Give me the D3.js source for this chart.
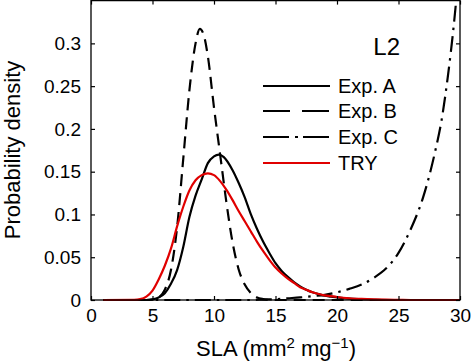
<!DOCTYPE html>
<html>
<head>
<meta charset="utf-8">
<script src="https://cdn.jsdelivr.net/npm/d3@7"></script>
<style>
  html, body { margin: 0; padding: 0; background: #fff; }
  svg { display: block; }
  text { font-family: "Liberation Sans", Arial, Helvetica, sans-serif; fill: #000; }
</style>
</head>
<body>
<svg id="chart" width="475" height="364"></svg>
<script>
// ---- Data ----
const xTicks = [0, 5, 10, 15, 20, 25, 30];
const yTicks = [0, 0.05, 0.1, 0.15, 0.2, 0.25, 0.3];
const yTickLabels = ["0", "0.05", "0.1", "0.15", "0.2", "0.25", "0.3"];

const seriesNames = ["Exp. A", "Exp. B", "Exp. C", "TRY"];

const expA_x = [1, 4.5, 5, 5.5, 6, 6.5, 7, 7.5, 8, 8.5, 9, 9.5, 10, 10.4, 10.8, 11.5, 12, 12.5, 13, 13.5, 14, 14.5, 15, 15.5, 16, 16.5, 17, 17.5, 18, 18.5, 19, 19.5, 20, 21, 22, 23, 24, 30];
const expA_y = [0, 0, 0.0008, 0.003, 0.008, 0.019, 0.035, 0.062, 0.097, 0.122, 0.141, 0.160, 0.168, 0.170, 0.167, 0.152, 0.137, 0.120, 0.100, 0.083, 0.068, 0.055, 0.043, 0.034, 0.027, 0.021, 0.016, 0.012, 0.009, 0.007, 0.005, 0.004, 0.003, 0.0015, 0.0008, 0.0003, 0, 0];

const expB_x = [1, 4.5, 5, 5.5, 6, 6.5, 7, 7.5, 8, 8.5, 8.85, 9.2, 9.5, 10, 10.5, 11, 11.5, 12, 12.5, 13, 13.5, 14, 14.5, 30];
const expB_y = [0, 0, 0.0005, 0.003, 0.012, 0.035, 0.085, 0.165, 0.245, 0.300, 0.317, 0.308, 0.285, 0.225, 0.170, 0.115, 0.068, 0.036, 0.018, 0.008, 0.003, 0.001, 0, 0];

const expC_x = [1, 13, 14, 15, 16, 17, 18, 19, 20, 21, 22, 23, 24, 25, 26, 27, 28, 28.5, 29, 29.5, 30];
const expC_y = [0, 0, 0.0005, 0.001, 0.002, 0.003, 0.0045, 0.006, 0.009, 0.013, 0.018, 0.026, 0.037, 0.055, 0.083, 0.120, 0.175, 0.210, 0.260, 0.322, 0.40];

const try_x = [1, 3.5, 4, 4.5, 5, 5.5, 6, 6.5, 7, 7.5, 8, 8.5, 9, 9.5, 10, 10.5, 11, 11.5, 12, 12.5, 13, 13.5, 14, 14.5, 15, 15.5, 16, 16.5, 17, 17.5, 18, 18.5, 19, 19.5, 20, 21, 22, 23, 24, 25, 26, 30];
const try_y = [0, 0.0003, 0.001, 0.004, 0.011, 0.024, 0.040, 0.060, 0.086, 0.109, 0.128, 0.140, 0.146, 0.148, 0.146, 0.139, 0.129, 0.117, 0.104, 0.092, 0.080, 0.068, 0.057, 0.047, 0.038, 0.031, 0.025, 0.020, 0.015, 0.012, 0.009, 0.007, 0.0055, 0.0045, 0.0035, 0.002, 0.0012, 0.0007, 0.0004, 0.0002, 0, 0];

// ---- Layout ----
const svg = d3.select("#chart");
const mLeft = 91, mRight = 460, mTop = 0.6, mBottom = 300;

const x = d3.scaleLinear().domain([0, 30]).range([mLeft, mRight]);
const y = d3.scaleLinear().domain([0, 0.35]).range([mBottom, mTop]);

svg.append("defs").append("clipPath").attr("id", "clip")
  .append("rect").attr("x", mLeft).attr("y", mTop).attr("width", mRight - mLeft).attr("height", mBottom - mTop + 6);

const line = d3.line().x(d => x(d[0])).y(d => y(d[1])).curve(d3.curveMonotoneX);
const zip = (xs, ys) => xs.map((v, i) => [v, ys[i]]);

const series = [
  { name: seriesNames[0], pts: zip(expA_x, expA_y), color: "#000", dash: null, legDash: null },
  { name: seriesNames[1], pts: zip(expB_x, expB_y), color: "#000", dash: "12,7", legDash: "27,12" },
  { name: seriesNames[2], pts: zip(expC_x, expC_y), color: "#000", dash: "16,6,2.5,6", legDash: "26,6,3,5" },
  { name: seriesNames[3], pts: zip(try_x, try_y), color: "#e00000", dash: null, legDash: null }
];

const plot = svg.append("g").attr("clip-path", "url(#clip)");
series.forEach(s => {
  plot.append("path")
    .attr("d", line(s.pts))
    .attr("fill", "none")
    .attr("stroke", s.color)
    .attr("stroke-width", 2.2)
    .attr("stroke-dasharray", s.dash)
    .attr("stroke-linejoin", "round");
});

// ---- Axes (ticks inward, mirrored) ----
const tickLen = 4;
const fmtY = d => yTickLabels[yTicks.indexOf(d)];

const gx = svg.append("g").attr("transform", `translate(0,${mBottom})`)
  .call(d3.axisBottom(x).tickValues(xTicks).tickSizeInner(-tickLen).tickSizeOuter(0).tickPadding(9).tickFormat(d3.format("d")));
const gxt = svg.append("g").attr("transform", `translate(0,${mTop})`)
  .call(d3.axisTop(x).tickValues(xTicks).tickSizeInner(-tickLen).tickSizeOuter(0).tickFormat(""));
const gy = svg.append("g").attr("transform", `translate(${mLeft},0)`)
  .call(d3.axisLeft(y).tickValues(yTicks).tickSizeInner(-tickLen).tickSizeOuter(0).tickPadding(10).tickFormat(fmtY));
const gyr = svg.append("g").attr("transform", `translate(${mRight},0)`)
  .call(d3.axisRight(y).tickValues(yTicks).tickSizeInner(-tickLen).tickSizeOuter(0).tickFormat(""));

[gx, gxt, gy, gyr].forEach(g => {
  g.select(".domain").remove();
  g.selectAll(".tick line").attr("stroke", "#000").attr("stroke-width", 1.2);
  g.selectAll(".tick text").attr("font-size", 19).attr("font-family", '"Liberation Sans", Arial, sans-serif').attr("fill", "#000");
});

// box
svg.append("rect").attr("x", mLeft).attr("y", mTop).attr("width", mRight - mLeft).attr("height", mBottom - mTop)
  .attr("fill", "none").attr("stroke", "#000").attr("stroke-width", 1.3);

// ---- Axis labels ----
const xl = svg.append("text").attr("x", 276).attr("y", 356).attr("text-anchor", "middle").attr("font-size", 22);
xl.append("tspan").text("SLA (mm");
xl.append("tspan").attr("dy", -8).attr("font-size", 15).text("2");
xl.append("tspan").attr("dy", 8).text(" mg");
xl.append("tspan").attr("dy", -8).attr("font-size", 15).text("−1");
xl.append("tspan").attr("dy", 8).text(")");

svg.append("text").attr("transform", "translate(20,150) rotate(-90)")
  .attr("text-anchor", "middle").attr("font-size", 22).text("Probability density");

// ---- Panel label & legend ----
svg.append("text").attr("x", 400).attr("y", 55).attr("text-anchor", "end").attr("font-size", 24).text("L2");

const legY = [86, 111, 137, 163];
series.forEach((s, i) => {
  svg.append("line").attr("x1", 263).attr("x2", 330).attr("y1", legY[i]).attr("y2", legY[i])
    .attr("stroke", s.color).attr("stroke-width", 2.2).attr("stroke-dasharray", s.legDash);
  svg.append("text").attr("x", 338).attr("y", legY[i]).attr("dy", "0.36em")
    .attr("font-size", 20).text(s.name);
});
</script>
</body>
</html>
